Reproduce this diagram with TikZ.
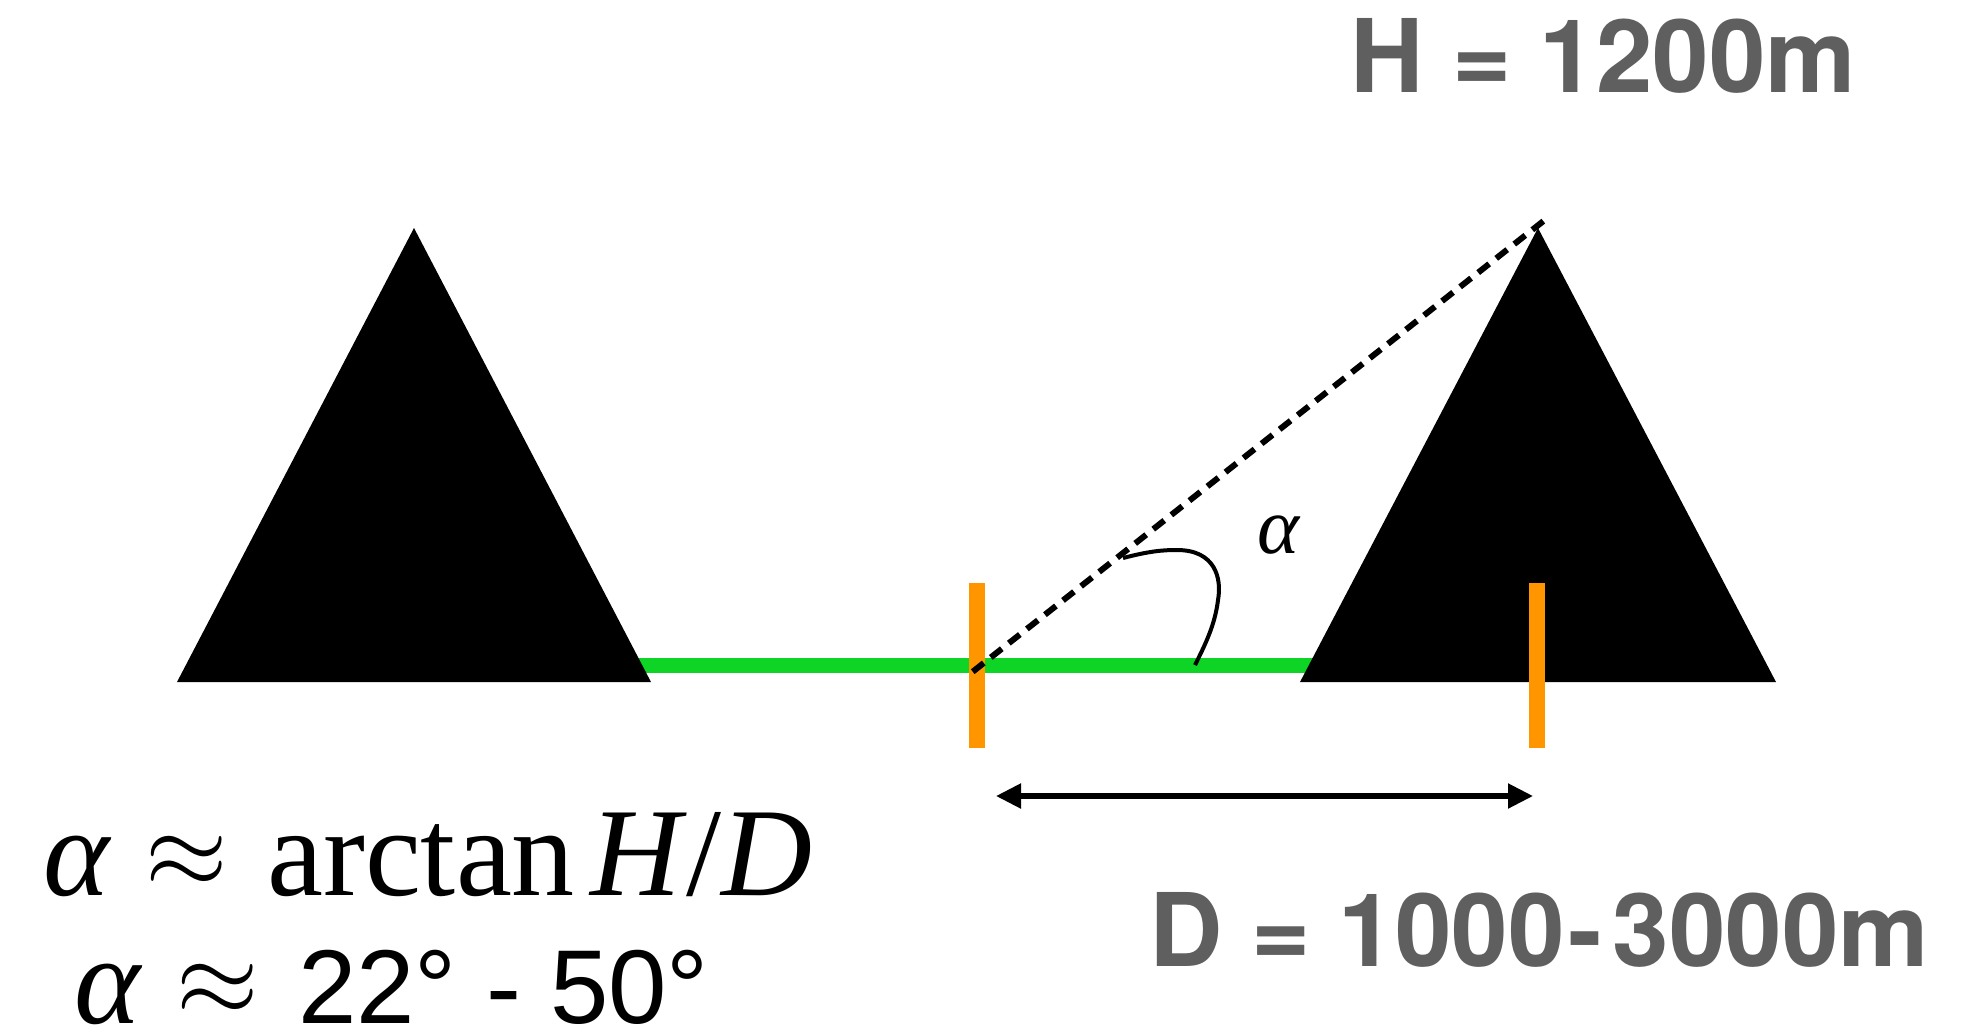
\documentclass[tikz,border=0pt]{standalone}
\usepackage{fontspec}
\setmainfont{Liberation Serif}
\newfontfamily\heros{TeX Gyre Heros}
\newfontfamily\lsans{Liberation Sans}
\usetikzlibrary{arrows.meta}
\definecolor{grassgreen}{RGB}{14,212,38}
\definecolor{poleorange}{RGB}{255,150,0}
\definecolor{labelgray}{RGB}{95,95,95}
\newcommand{\bigapprox}{\raisebox{3.6pt}{\scalebox{5.3}{\fontsize{10}{12}\selectfont$\approx$}}}
\begin{document}
\begin{tikzpicture}[x=0.5pt,y=-0.5pt,
  mountain/.style={fill=black, draw=none},
  pole/.style={draw=poleorange, line width=8pt},
  ground/.style={draw=grassgreen, line width=7.5pt},
  sight/.style={draw=black, line width=3pt, dash pattern=on 7pt off 4.5pt, dash phase=7.2pt},
  anglearc/.style={draw=black, line width=2pt},
  dimarrow/.style={draw=black, line width=2.6pt, {Triangle[length=12.5pt,width=12pt]}-{Triangle[length=12.5pt,width=12pt]}},
  bigvalue/.style={text=labelgray, inner sep=0pt, anchor=base west, font=\heros\bfseries\fontsize{50.8}{60}\selectfont},
  formula/.style={text=black, inner sep=0pt, anchor=base west, text depth=0pt, font=\fontsize{63}{70}\selectfont}]
\useasboundingbox (0,0) rectangle (1987,1035);
% ground
\coordinate (gL) at (630,665);
\coordinate (gR) at (1320,665);
\draw[ground] (gL) -- (gR);
% mountains
\coordinate (peakL) at (414,228);
\coordinate (peak) at (1538,228);
\fill[mountain] (177,682) -- (peakL) -- (651,682) -- cycle;
\fill[mountain] (1300,682) -- (peak) -- (1776,682) -- cycle;
% poles
\coordinate (p1t) at (977,583); \coordinate (p1b) at (977,748);
\coordinate (p2t) at (1537,583); \coordinate (p2b) at (1537,748);
\draw[pole] (p1t) -- (p1b);
\draw[pole] (p2t) -- (p2b);
% line of sight
\coordinate (obs) at (966,677);
\coordinate (sightend) at (1546,219);
\draw[sight] (obs) -- (sightend);
% angle arc
\coordinate (arcS) at (1123,558);
\coordinate (arcE) at (1195,665);
\draw[anglearc] (arcS) .. controls (1150,551) and (1163,550) .. (1177,550)
   .. controls (1215,550) and (1222,578) .. (1218,600)
   .. controls (1215,625) and (1205,645) .. (arcE);
\node[inner sep=0pt, font=\itshape\fontsize{40}{46}\selectfont] (alab) at (1278,535) {α};
% distance arrow
\coordinate (dL) at (996,796);
\coordinate (dR) at (1533,796);
\draw[dimarrow] (dL) -- (dR);
% labels
\node[bigvalue] (hval) at (1350,92) {H = 1200m};
\node[bigvalue] (dval) at (1149,966) {D = 1000\hspace{0.04em}-\hspace{0.1em}3000m};
\node[formula] (f1) at (43,895) {\textit{α}\hspace{0.02em} \bigapprox\hspace{0.06em} arctan\hspace{0.12em}\textit{H}/\textit{D}};
\node[formula] (f2) at (74,1023) {\textit{α}\hspace{0.02em} \bigapprox\hspace{0.06em} {\lsans\fontsize{52.5}{58}\selectfont 22° - 50°}};
\end{tikzpicture}
\end{document}
